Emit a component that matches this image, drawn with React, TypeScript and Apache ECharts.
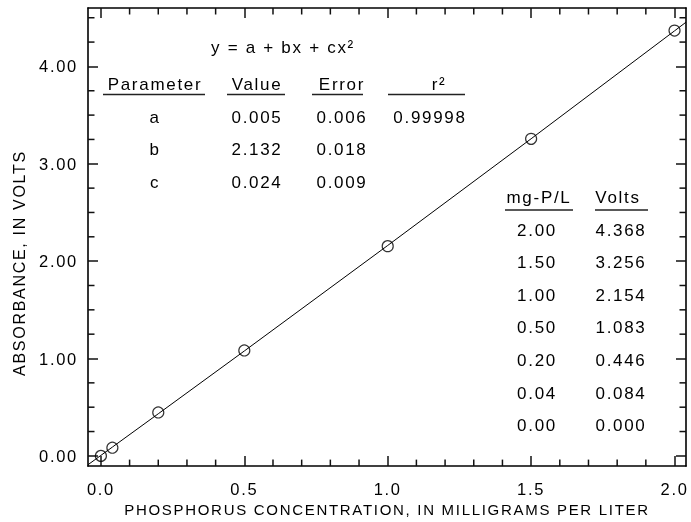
import React, { useEffect, useRef } from "react";
import * as echarts from "echarts";

// Calibration standards
const CONC = [2.0, 1.5, 1.0, 0.5, 0.2, 0.04, 0.0];
const VOLTS = [4.368, 3.256, 2.154, 1.083, 0.446, 0.084, 0.0];

// Quadratic fit y = a + bx + cx^2
const FIT_PARAMS = ["a", "b", "c"];
const FIT_VALUES = [0.005, 2.132, 0.024];
const FIT_ERRORS = [0.006, 0.018, 0.009];
const R_SQUARED = 0.99998;

// Axis ranges and ticks
const X_MIN = -0.045;
const X_MAX = 2.04;
const Y_MIN = -0.105;
const Y_MAX = 4.6;
const X_MAJOR = [0, 0.5, 1.0, 1.5, 2.0];
const X_MINOR = [0.1, 0.2, 0.3, 0.4, 0.6, 0.7, 0.8, 0.9, 1.1, 1.2, 1.3, 1.4, 1.6, 1.7, 1.8, 1.9];
const Y_MAJOR = [0, 1, 2, 3, 4];
const Y_MINOR = [0.25, 0.5, 0.75, 1.25, 1.5, 1.75, 2.25, 2.5, 2.75, 3.25, 3.5, 3.75, 4.25, 4.5];

const X_TITLE = "PHOSPHORUS CONCENTRATION, IN MILLIGRAMS PER LITER";
const Y_TITLE = "ABSORBANCE, IN VOLTS";

const FONT = "'Liberation Sans', Arial, Helvetica, sans-serif";
const INK = "#000";
const MINOR_LEN = 6.5;

const fitAt = (x: number) => FIT_VALUES[0] + FIT_VALUES[1] * x + FIT_VALUES[2] * x * x;

function frameAxis(kind: "x" | "y", position: string, withLabels: boolean): any {
  const values = kind === "x" ? X_MAJOR : Y_MAJOR;
  return {
    type: "value",
    position,
    min: kind === "x" ? X_MIN : Y_MIN,
    max: kind === "x" ? X_MAX : Y_MAX,
    axisLine: { show: true, onZero: false, lineStyle: { color: INK, width: 1.6 } },
    axisTick: {
      show: true,
      inside: true,
      length: 10,
      customValues: values,
      lineStyle: { color: "#111", width: 1.5 },
    },
    axisLabel: withLabels
      ? {
          show: true,
          customValues: values,
          formatter: (v: number) => (kind === "x" ? v.toFixed(1) : v.toFixed(2)),
          margin: kind === "x" ? 14 : 10,
          fontSize: 16.5,
          color: INK,
          fontFamily: FONT,
        }
      : { show: false },
    splitLine: { show: false },
  };
}

function label(x: number, y: number, text: string, fontSize = 17): any {
  return {
    type: "text",
    x,
    y,
    style: {
      text,
      fill: INK,
      font: `${fontSize}px ${FONT}`,
      align: "center",
      verticalAlign: "middle",
    },
  };
}

function rule(x1: number, x2: number, y: number): any {
  return {
    type: "line",
    shape: { x1, y1: y, x2, y2: y },
    style: { stroke: "#222", lineWidth: 1.3 },
  };
}

function buildGraphics(): any[] {
  const g: any[] = [];
  // Fit summary table
  g.push(label(283, 47, "y = a + bx + cx²"));
  const colX = [155, 257, 342, 439];
  const heads = ["Parameter", "Value", "Error", "r²"];
  heads.forEach((h, i) => g.push(label(colX[i], 84, h)));
  g.push(rule(103, 205, 94.5), rule(227, 285, 94.5), rule(312, 363, 94.5), rule(388, 465, 94.5));
  FIT_PARAMS.forEach((p, i) => {
    const y = 117 + i * 32.5;
    g.push(label(colX[0], y, p));
    g.push(label(colX[1], y, FIT_VALUES[i].toFixed(3)));
    g.push(label(colX[2], y, FIT_ERRORS[i].toFixed(3)));
  });
  g.push(label(430, 117, R_SQUARED.toFixed(5)));

  // Standards table
  g.push(label(539, 197, "mg-P/L"));
  g.push(label(618, 197, "Volts"));
  g.push(rule(505, 573, 210), rule(595, 648, 210));
  CONC.forEach((c, i) => {
    const y = 230 + i * 32.6;
    g.push(label(537, y, c.toFixed(2)));
    g.push(label(621, y, VOLTS[i].toFixed(3)));
  });

  // Vertical axis title
  g.push({
    type: "text",
    x: 19,
    y: 263,
    rotation: Math.PI / 2,
    style: {
      text: Y_TITLE,
      fill: INK,
      font: `16px ${FONT}`,
      align: "center",
      verticalAlign: "middle",
    },
  });
  return g;
}

// Minor tick marks on all four sides of the frame, placed through the axis scales
const minorTickData = [...X_MINOR.map((v) => [v, 0]), ...Y_MINOR.map((v) => [v, 1])];

function renderMinorTick(params: any, api: any) {
  const v = api.value(0);
  const isX = api.value(1) === 0;
  const style = { stroke: "#111", lineWidth: 1.5 };
  if (isX) {
    const b = api.coord([v, Y_MIN]);
    const t = api.coord([v, Y_MAX]);
    return {
      type: "group",
      children: [
        { type: "line", shape: { x1: b[0], y1: b[1], x2: b[0], y2: b[1] - MINOR_LEN }, style },
        { type: "line", shape: { x1: t[0], y1: t[1], x2: t[0], y2: t[1] + MINOR_LEN }, style },
      ],
    };
  }
  const l = api.coord([X_MIN, v]);
  const r = api.coord([X_MAX, v]);
  return {
    type: "group",
    children: [
      { type: "line", shape: { x1: l[0], y1: l[1], x2: l[0] + MINOR_LEN, y2: l[1] }, style },
      { type: "line", shape: { x1: r[0], y1: r[1], x2: r[0] - MINOR_LEN, y2: r[1] }, style },
    ],
  };
}

export default function App() {
  const ref = useRef<HTMLDivElement>(null);

  useEffect(() => {
    if (!ref.current) return;
    const chart = echarts.init(ref.current, undefined, { renderer: "svg" });

    const fitXs = [X_MIN, ...[...CONC].sort((a, b) => a - b), X_MAX];
    const fitLine = fitXs.map((x) => [x, fitAt(x)]);
    const points = CONC.map((x, i) => [x, VOLTS[i]]);

    const bottom = frameAxis("x", "bottom", true);
    bottom.name = X_TITLE;
    bottom.nameLocation = "middle";
    bottom.nameGap = 34;
    bottom.nameTextStyle = { fontSize: 15, color: INK, fontFamily: FONT };

    chart.setOption({
      animation: false,
      grid: { left: 88, top: 8, width: 598, height: 459 },
      xAxis: [bottom, frameAxis("x", "top", false)],
      yAxis: [frameAxis("y", "left", true), frameAxis("y", "right", false)],
      series: [
        {
          type: "custom",
          name: "minor ticks",
          data: minorTickData,
          xAxisIndex: 0,
          yAxisIndex: 0,
          renderItem: renderMinorTick,
          silent: true,
          clip: false,
        },
        {
          type: "line",
          name: "fit",
          data: fitLine,
          xAxisIndex: 0,
          yAxisIndex: 0,
          showSymbol: false,
          clip: true,
          lineStyle: { color: INK, width: 1 },
          z: 2,
          silent: true,
        },
        {
          type: "scatter",
          name: "standards",
          data: points,
          xAxisIndex: 0,
          yAxisIndex: 0,
          symbol: "circle",
          symbolSize: 11,
          itemStyle: { color: "rgba(0,0,0,0)", borderColor: INK, borderWidth: 1.2 },
          z: 3,
        },
      ],
      graphic: buildGraphics(),
    });

    return () => chart.dispose();
  }, []);

  return (
    <>
      <style>{`.phos-chart text { letter-spacing: 1.7px; }`}</style>
      <div
        ref={ref}
        className="phos-chart"
        style={{ position: "fixed", left: 0, top: 0, width: 691, height: 522 }}
      />
    </>
  );
}
